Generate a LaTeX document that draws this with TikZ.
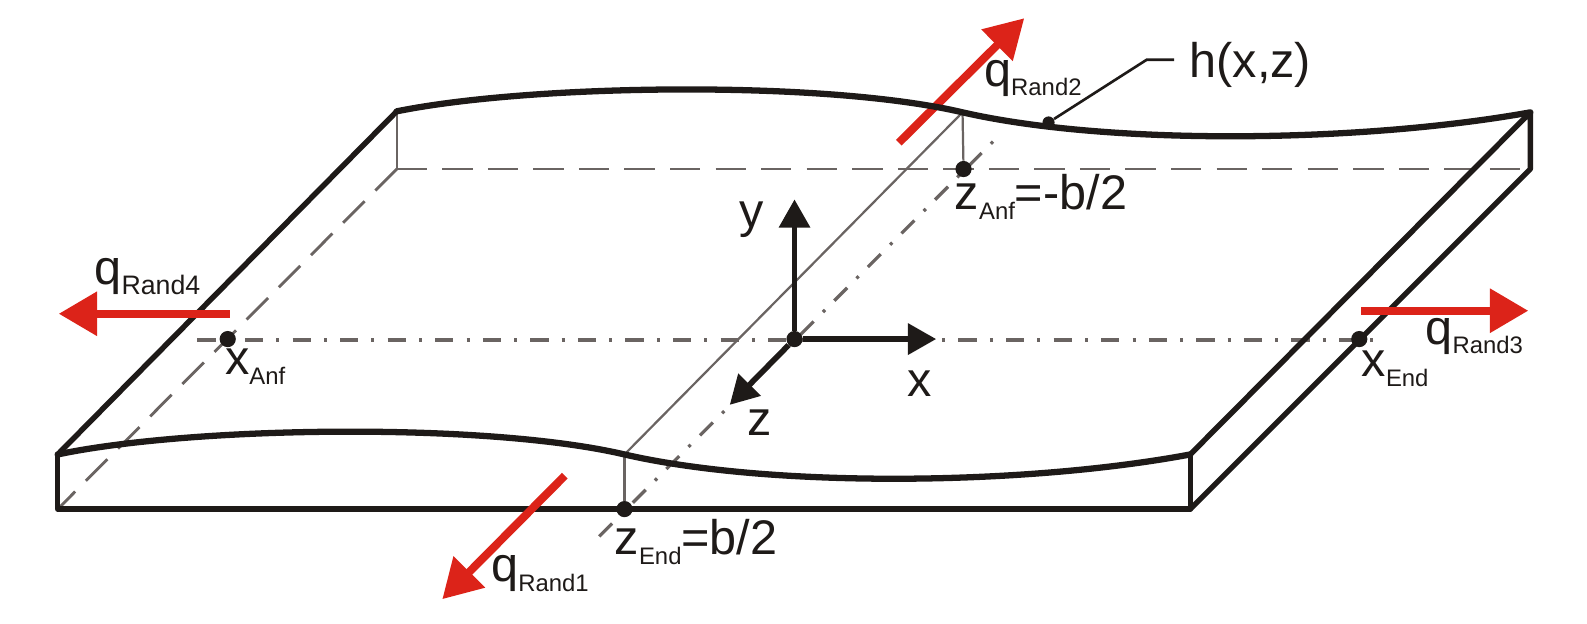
\documentclass[tikz,border=0pt]{standalone}
\usepackage{fontspec}
\setmainfont{Liberation Sans}
\usetikzlibrary{arrows.meta,backgrounds}
\definecolor{inkblack}{HTML}{1E1A18}
\definecolor{midgray}{HTML}{6A6462}
\definecolor{loadred}{HTML}{DC2319}
\newcommand{\subtxt}[2][11.8]{\raisebox{-0.2em}{\fontsize{#1}{14}\selectfont #2}}
\tikzset{
  body/.style={draw=inkblack,line width=2.7pt,line join=round,line cap=round},
  wave/.style={body,line width=3.1pt},
  hidden/.style={draw=midgray,line width=1.4pt,dash pattern=on 15pt off 7.5pt},
  center/.style={draw=midgray,line width=1.6pt,dash pattern=on 9pt off 6.5pt on 1.5pt off 6.5pt},
  thin/.style={draw=midgray,line width=1.1pt},
  axis/.style={draw=inkblack,line width=2.8pt,-{Triangle[length=14pt,width=15pt]}},
  load/.style={draw=loadred,line width=4pt,-{Triangle[length=19pt,width=21pt]}},
  lbl/.style={text=inkblack,anchor=base west,inner sep=0pt,font=\fontsize{24}{24}\selectfont},
  dot/.style={shape=circle,fill=inkblack,inner sep=0pt,minimum size=8pt},
}
\begin{document}
\begin{tikzpicture}[x=0.5pt,y=-0.5pt]
\useasboundingbox (0,0) rectangle (1568,615.6);
% corners
\coordinate (ftl) at (57,449);
\coordinate (fbl) at (57,503);
\coordinate (ftr) at (1176,449);
\coordinate (fbr) at (1176,503);
\coordinate (btl) at (392,110);
\coordinate (bbl) at (392,167);
\coordinate (btr) at (1512,111);
\coordinate (bbr) at (1512,167);
\coordinate (hend) at (1505,167);
\coordinate (fmid) at (617,449);
\coordinate (bmid) at (951,111);
% points
\node[dot] (zanf) at (952,167) {};
\node[dot] (zend) at (617,503) {};
\node[dot] (xanf) at (225,335) {};
\node[dot] (xend) at (1343,335) {};
\node[dot] (orig) at (785,335) {};
\node[dot,minimum size=6pt] (hpt) at (1036,121) {};
\coordinate (xa) at (195,336);
\coordinate (xb) at (1366,336);
\coordinate (za) at (983,138);
\coordinate (zb) at (592,530);
\coordinate (r2a) at (888,141);
\coordinate (r2b) at (1012,18);
\coordinate (ye) at (785,197);
\coordinate (xe) at (925,335);
\coordinate (ze) at (721,400);
\begin{scope}[on background layer]
\path [hidden] (bbl) -- (hend);
\path [hidden] (bbl) -- (fbl);
\path [center] (xa) -- (xb);
\path [center] (zb) -- (za);
\path [thin] (btl) -- (bbl);
\path [thin] (bmid) -- (fmid);
\path [thin] (bmid) -- (zanf);
\path [thin] (fmid) -- (zend);
% load behind the edge
\path [load] (r2a) -- (r2b);
% plate
\path [wave] (ftl) .. controls (190,421) and (480,417) .. (fmid) .. controls (760,482) and (1010,480) .. (ftr);
\path [wave] (btl) .. controls (525,83) and (815,79) .. (bmid) .. controls (1095,144) and (1345,141) .. (btr);
\path [body] (ftl) -- (btl);
\path [body] (ftl) -- (fbl) -- (fbr) -- (ftr);
\path [body] (ftr) -- (btr) -- (bbr) -- (fbr);
% axes
\path [axis] (orig) -- (ye);
\path [axis] (orig) -- (xe);
\path [axis] (orig) -- (ze);
\end{scope}
% loads
\coordinate (r1a) at (558,470);
\coordinate (r1b) at (437,592);
\coordinate (r3a) at (1345,307);
\coordinate (r3b) at (1510,307);
\coordinate (r4a) at (227,310);
\coordinate (r4b) at (58,310);
\path [load] (r1a) -- (r1b);
\path [load] (r3a) -- (r3b);
\path [load] (r4a) -- (r4b);
% leader
\coordinate (hk) at (1133,59);
\coordinate (he) at (1160,59);
\path [draw=inkblack,line width=1.3pt] (hpt) -- (hk) -- (he);
% labels
\node[lbl] (hlbl) at (1175,77) {h(x,z)};
\node[lbl] (q1) at (485,575) {q\subtxt{Rand1}};
\node[lbl] (q2) at (972,85) {q\subtxt{Rand2}};
\node[lbl] (q3) at (1408,340) {q\subtxt{Rand3}};
\node[lbl] (q4) at (93,281) {q\subtxt[13.2]{Rand4}};
\node[lbl] (lxanf) at (222,370) {x\subtxt{Anf}};
\node[lbl] (lxend) at (1345,372) {x\subtxt{End}};
\node[lbl] (lzanf) at (943,207) {z\subtxt{Anf}=-b/2};
\node[lbl] (lzend) at (607,548) {z\subtxt{End}=b/2};
\node[lbl] (ly) at (730,225) {y};
\node[lbl] (lx) at (896,392) {x};
\node[lbl] (lz) at (738,430) {z};
\end{tikzpicture}
\end{document}
